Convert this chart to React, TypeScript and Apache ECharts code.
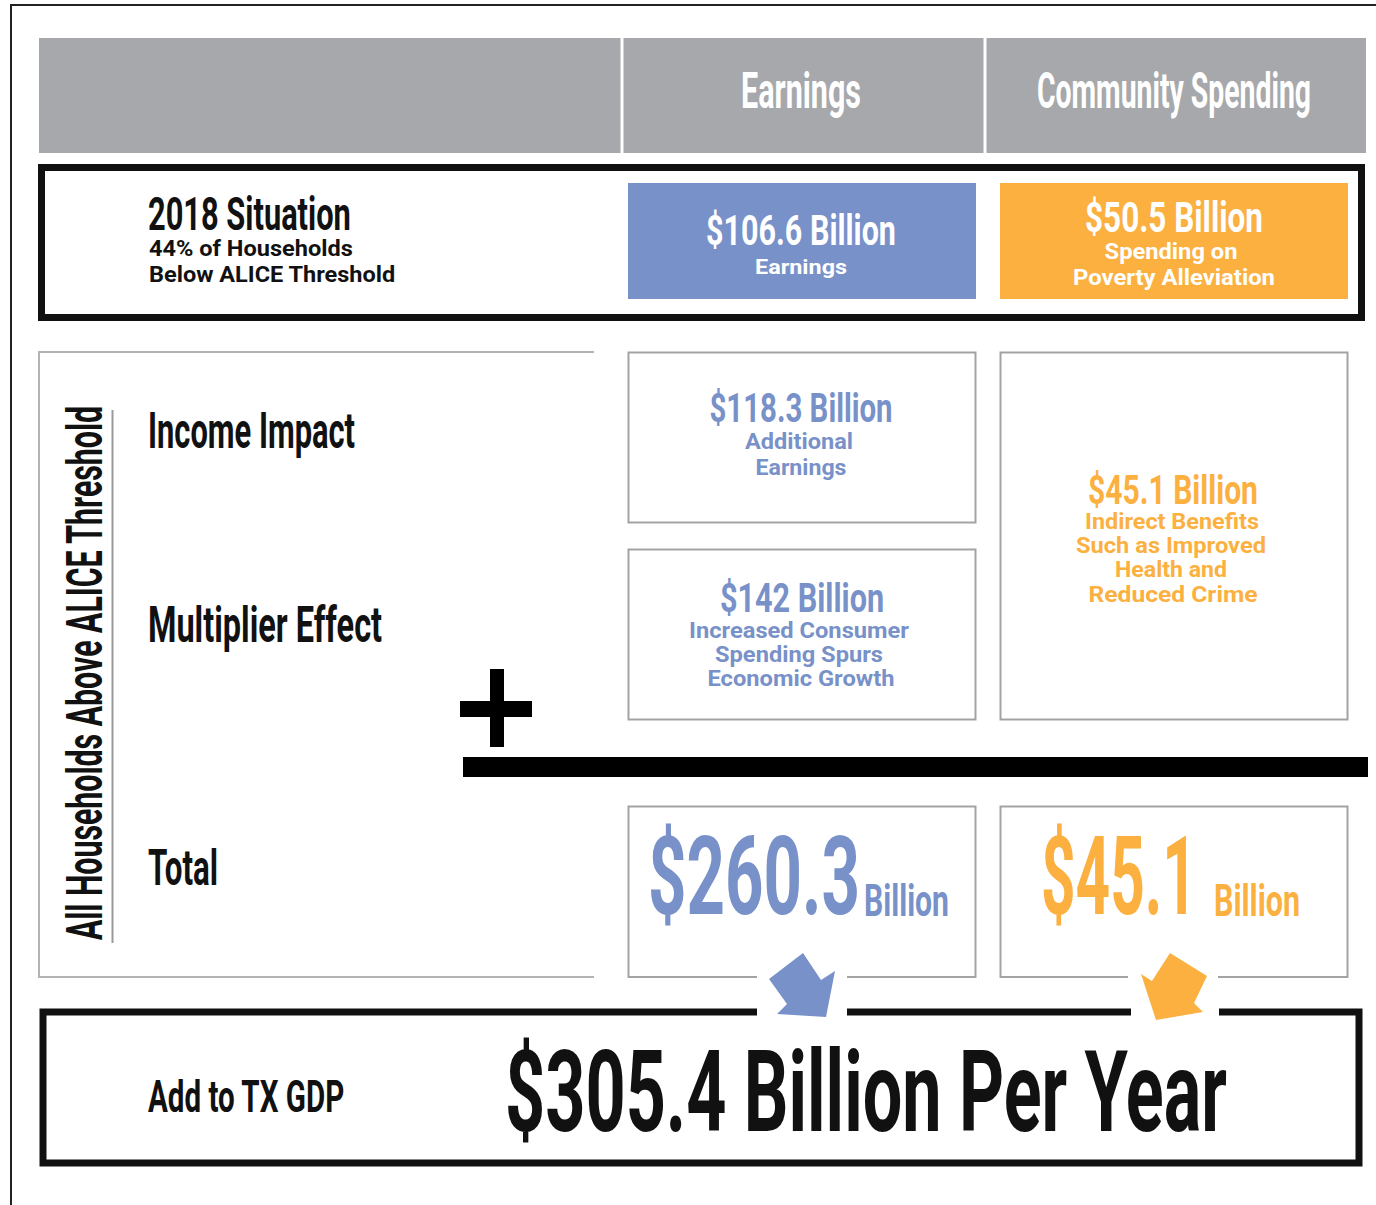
import React, { useEffect, useRef } from 'react';
import * as echarts from 'echarts';

// ---------- data ----------
const columnHeaders = ['Earnings', 'Community Spending'];
const situationTitle = ['2018 Situation', '44% of Households', 'Below ALICE Threshold'];
const rowLabels = ['Income Impact', 'Multiplier Effect', 'Total'];
const sideLabel = ['All Households Above ALICE Threshold'];
const situationValues = [106.6, 50.5];
const situationNotes = [['Earnings'], ['Spending on', 'Poverty Alleviation']];
const earningsImpactValues = [118.3, 142];
const earningsImpactNotes = [
  ['Additional', 'Earnings'],
  ['Increased Consumer', 'Spending Spurs', 'Economic Growth'],
];
const communityImpactValues = [45.1];
const communityImpactNotes = [['Indirect Benefits', 'Such as Improved', 'Health and', 'Reduced Crime']];
const totalValues = [260.3, 45.1];
const gdpLabel = ['Add to TX GDP'];
const gdpValues = [305.4];

// ---------- style ----------
const BLUE = '#7891c9';
const ORANGE = '#fbb040';
const GREY = '#a7a8ab';
const BOXLINE = '#a3a3a3';
const INK = '#111111';

let mctx: CanvasRenderingContext2D | null = null;
function measure(text: string, size: number, family: string) {
  if (!mctx) mctx = document.createElement('canvas').getContext('2d');
  mctx!.font = `bold ${size}px ${family}`;
  return mctx!.measureText(text).width;
}

function txt(
  text: string,
  x: number,
  y: number,
  cap: number,
  width: number,
  fill: string,
  align: 'left' | 'center' = 'center',
  rotation = 0
) {
  const family = 'Roboto';
  const size = cap / 0.711;
  const w = measure(text, size, family);
  return {
    type: 'text',
    x,
    y,
    rotation,
    scaleX: width / w,
    silent: true,
    style: {
      text,
      fill,
      fontSize: size,
      fontWeight: 'bold',
      fontFamily: family,
      align,
      verticalAlign: 'middle',
    },
  };
}

function rect(x: number, y: number, w: number, h: number, style: any) {
  return { type: 'rect', shape: { x, y, width: w, height: h }, style };
}
function line(x1: number, y1: number, x2: number, y2: number, stroke: string, lineWidth: number) {
  return { type: 'line', shape: { x1, y1, x2, y2 }, style: { stroke, lineWidth } };
}
function polyline(points: number[][], stroke: string, lineWidth: number) {
  return { type: 'polyline', shape: { points }, style: { stroke, lineWidth, fill: null, lineJoin: 'miter' } };
}
const money = (v: number) => `$${v} Billion`;

function buildElements() {
  const els: any[] = [];
  // outer frame
  els.push(polyline([[11, 1205], [11, 5], [1376, 5]], '#222', 2));

  // header band
  els.push(rect(39, 38, 1327, 115, { fill: GREY }));
  els.push(line(622, 38, 622, 153, '#ffffff', 3));
  els.push(line(985, 38, 985, 153, '#ffffff', 3));
  els.push(txt(columnHeaders[0], 801, 91, 35, 120, '#ffffff'));
  els.push(txt(columnHeaders[1], 1174, 91, 35, 274, '#ffffff'));

  // 2018 situation row
  els.push(rect(41.5, 167.5, 1320, 150, { fill: null, stroke: INK, lineWidth: 7 }));
  els.push(txt(situationTitle[0], 148, 214, 33, 203, INK, 'left'));
  els.push(txt(situationTitle[1], 149, 249, 16, 204, INK, 'left'));
  els.push(txt(situationTitle[2], 149, 275, 16, 247, INK, 'left'));

  els.push(rect(628, 183, 348, 116, { fill: BLUE }));
  els.push(rect(1000, 183, 348, 116, { fill: ORANGE }));
  els.push(txt(money(situationValues[0]), 801, 231, 30, 190, '#ffffff'));
  els.push(txt(situationNotes[0][0], 801, 266, 15, 92, '#ffffff'));
  els.push(txt(money(situationValues[1]), 1174, 217, 30, 178, '#ffffff'));
  els.push(txt(situationNotes[1][0], 1171, 252, 15.5, 133, '#ffffff'));
  els.push(txt(situationNotes[1][1], 1174, 278, 15.5, 202, '#ffffff'));

  // left panel
  els.push(polyline([[594, 352], [39, 352], [39, 977], [594, 977]], '#b3b3b3', 2));
  els.push(line(112.5, 410, 112.5, 943, '#999999', 2));
  els.push(txt(sideLabel[0], 84, 673, 36, 535, INK, 'center', Math.PI / 2));
  els.push(txt(rowLabels[0], 148, 431, 35, 207, INK, 'left'));
  els.push(txt(rowLabels[1], 148, 625, 35, 234, INK, 'left'));
  els.push(txt(rowLabels[2], 148, 868, 35, 70, INK, 'left'));

  // impact boxes
  els.push(rect(628.5, 352.5, 347, 170, { fill: null, stroke: BOXLINE, lineWidth: 2 }));
  els.push(rect(628.5, 549.5, 347, 170, { fill: null, stroke: BOXLINE, lineWidth: 2 }));
  els.push(rect(1000.5, 352.5, 347, 367, { fill: null, stroke: BOXLINE, lineWidth: 2 }));

  els.push(txt(money(earningsImpactValues[0]), 801, 408, 29, 183, BLUE));
  els.push(txt(earningsImpactNotes[0][0], 799, 442, 16, 108, BLUE));
  els.push(txt(earningsImpactNotes[0][1], 801, 468, 16, 91, BLUE));

  els.push(txt(money(earningsImpactValues[1]), 802, 598, 29, 164, BLUE));
  els.push(txt(earningsImpactNotes[1][0], 799, 631, 16, 220, BLUE));
  els.push(txt(earningsImpactNotes[1][1], 799, 655, 16, 168, BLUE));
  els.push(txt(earningsImpactNotes[1][2], 801, 679, 16, 187, BLUE));

  els.push(txt(money(communityImpactValues[0]), 1173, 490, 29, 170, ORANGE));
  const cy = [522, 546, 570, 594];
  const cw = [174, 190, 112, 169];
  const cx = [1172, 1171, 1171, 1173];
  communityImpactNotes[0].forEach((t, i) => els.push(txt(t, cx[i], cy[i], 16, cw[i], ORANGE)));

  // plus / sum bar
  els.push(rect(460, 701, 72, 16, { fill: '#000' }));
  els.push(rect(490, 669, 14, 78, { fill: '#000' }));
  els.push(rect(463, 757, 905, 20, { fill: '#000' }));

  // total boxes with gaps for arrows
  els.push(polyline([[757, 977], [628.5, 977], [628.5, 806.5], [975.5, 806.5], [975.5, 977], [847, 977]], BOXLINE, 2));
  els.push(polyline([[1128, 977], [1000.5, 977], [1000.5, 806.5], [1347.5, 806.5], [1347.5, 977], [1218, 977]], BOXLINE, 2));
  els.push(txt('$' + totalValues[0], 648, 877, 78, 212, BLUE, 'left'));
  els.push(txt('Billion', 864, 900.5, 31, 85, BLUE, 'left'));
  els.push(txt('$' + totalValues[1], 1041, 877, 78, 156, ORANGE, 'left'));
  els.push(txt('Billion', 1214, 900.5, 31, 86, ORANGE, 'left'));

  // GDP box
  els.push(polyline([[757, 1012], [43, 1012], [43, 1163], [1359, 1163], [1359, 1012], [1219, 1012]], INK, 7));
  els.push(line(847, 1012, 1131, 1012, INK, 7));
  els.push(txt(gdpLabel[0], 148, 1097, 32, 197, INK, 'left'));
  els.push(txt(`$${gdpValues[0]} Billion Per Year`, 505, 1093, 80, 722, INK, 'left'));

  // arrows
  els.push({
    type: 'polygon',
    shape: { points: [[769, 979], [803, 953], [821, 980], [835, 971], [826, 1017], [777, 1014], [787, 1004]] },
    style: { fill: BLUE },
  });
  els.push({
    type: 'polygon',
    shape: { points: [[1170, 953], [1207, 976], [1194, 1003], [1203, 1012], [1156, 1020], [1141, 974], [1152, 981]] },
    style: { fill: ORANGE },
  });
  return els;
}

export default function App() {
  const ref = useRef<HTMLDivElement>(null);
  useEffect(() => {
    document.body.style.margin = '0';
    const chart = echarts.init(ref.current!, undefined, { renderer: 'svg' });
    chart.setOption({
      animation: false,
      backgroundColor: '#ffffff',
      graphic: { elements: buildElements() },
    });
    return () => chart.dispose();
  }, []);
  return <div ref={ref} style={{ width: 1376, height: 1205 }} />;
}
